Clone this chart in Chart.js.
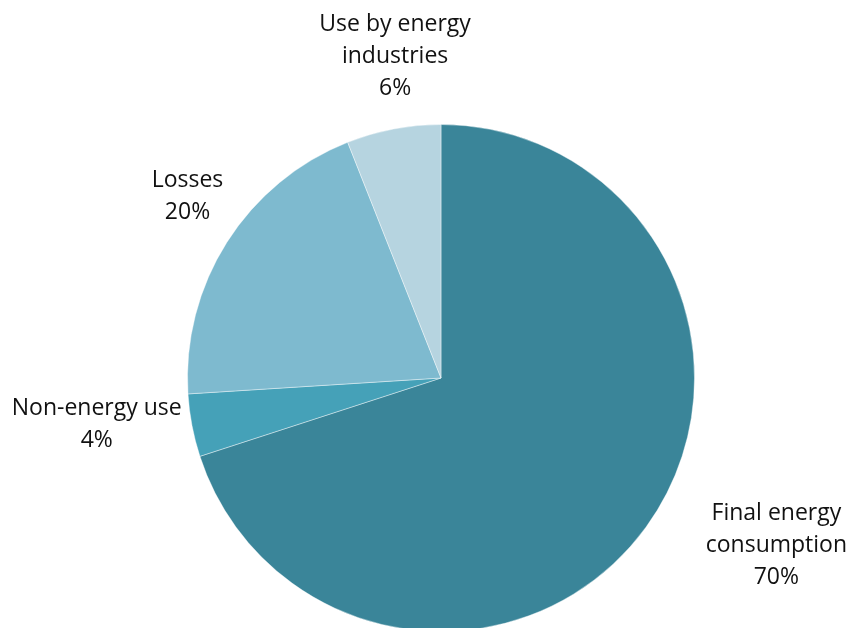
<!DOCTYPE html>
<html>
<head>
<meta charset="utf-8">
<script src="https://cdn.jsdelivr.net/npm/chart.js@4/dist/chart.umd.min.js"></script>
<style>
  html, body { margin: 0; padding: 0; background: #fff; overflow: hidden; }
  #wrap { width: 850px; height: 640px; position: relative; }
</style>
</head>
<body>
<div id="wrap"><canvas id="pieChart"></canvas></div>
<script>
// 데이터
const categories = [['Final energy', 'consumption'], ['Non-energy use'], ['Losses'], ['Use by energy', 'industries']];
const shares = [70, 4, 20, 6];
const colors = ['#3a8599', '#45a1b8', '#7ebacf', '#b6d4e0'];

// 라벨 위치 (반지름 대비 중심에서의 오프셋)
const labelOffsets = [[1.323, 0.661], [-1.358, 0.185], [-1.0, -0.717], [-0.181, -1.27]];

const outsideLabels = {
  id: 'outsideLabels',
  afterDatasetsDraw(chart) {
    const { ctx } = chart;
    const arcs = chart.getDatasetMeta(0).data;
    ctx.save();
    ctx.font = '23px "Open Sans", sans-serif';
    ctx.fillStyle = '#111';
    ctx.textAlign = 'center';
    ctx.textBaseline = 'middle';
    const lineH = 32;
    arcs.forEach((arc, i) => {
      const r = arc.outerRadius;
      const cx = arc.x + labelOffsets[i][0] * r;
      const cy = arc.y + labelOffsets[i][1] * r;
      const lines = [...categories[i], shares[i] + '%'];
      const top = cy - (lines.length - 1) * lineH / 2;
      lines.forEach((t, k) => ctx.fillText(t, cx, top + k * lineH));
    });
    ctx.restore();
  }
};

new Chart(document.getElementById('pieChart'), {
  type: 'pie',
  data: {
    labels: categories.map(c => c.join(' ')),
    datasets: [{
      data: shares,
      backgroundColor: colors,
      borderColor: 'rgba(255,255,255,0.4)',
      borderWidth: 1
    }]
  },
  options: {
    responsive: true,
    maintainAspectRatio: false,
    animation: false,
    layout: { padding: { top: 124, bottom: 8, left: 32, right: 0 } },
    plugins: {
      legend: { display: false },
      tooltip: { enabled: false }
    }
  },
  plugins: [outsideLabels]
});
</script>
</body>
</html>
